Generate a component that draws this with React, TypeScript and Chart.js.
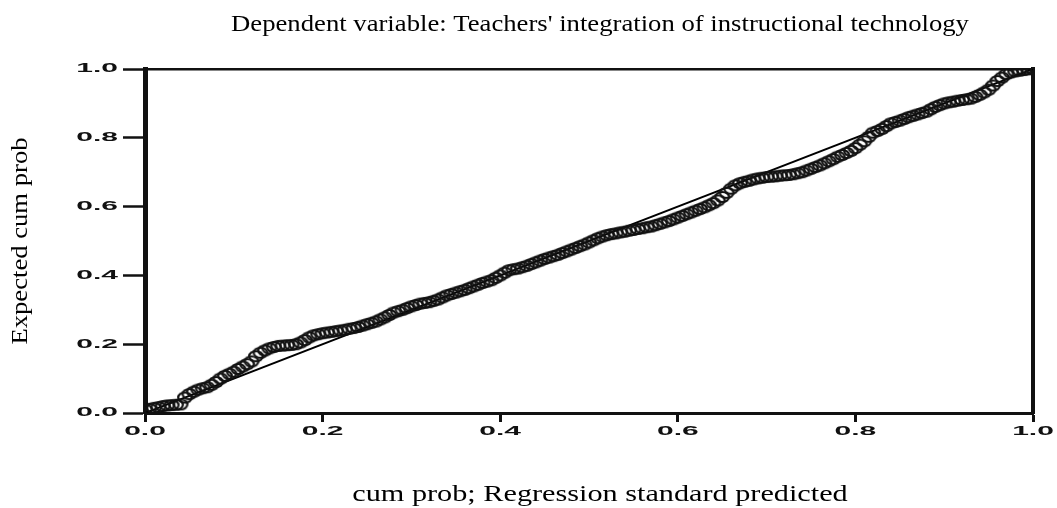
import React, { useEffect, useRef } from "react";
import { Chart, registerables, LinearScale } from "chart.js";

// ---- data ----
const xValues = [
  0.000, 0.005, 0.010, 0.015, 0.020, 0.025, 0.030, 0.035, 0.040, 0.045,
  0.050, 0.055, 0.060, 0.065, 0.070, 0.075, 0.080, 0.085, 0.090, 0.095,
  0.100, 0.105, 0.110, 0.115, 0.120, 0.125, 0.130, 0.135, 0.140, 0.145,
  0.150, 0.155, 0.160, 0.165, 0.170, 0.175, 0.180, 0.185, 0.190, 0.195,
  0.200, 0.205, 0.210, 0.215, 0.220, 0.225, 0.230, 0.235, 0.240, 0.245,
  0.250, 0.255, 0.260, 0.265, 0.270, 0.275, 0.280, 0.285, 0.290, 0.295,
  0.300, 0.305, 0.310, 0.315, 0.320, 0.325, 0.330, 0.335, 0.340, 0.345,
  0.350, 0.355, 0.360, 0.365, 0.370, 0.375, 0.380, 0.385, 0.390, 0.395,
  0.400, 0.405, 0.410, 0.415, 0.420, 0.425, 0.430, 0.435, 0.440, 0.445,
  0.450, 0.455, 0.460, 0.465, 0.470, 0.475, 0.480, 0.485, 0.490, 0.495,
  0.500, 0.505, 0.510, 0.515, 0.520, 0.525, 0.530, 0.535, 0.540, 0.545,
  0.550, 0.555, 0.560, 0.565, 0.570, 0.575, 0.580, 0.585, 0.590, 0.595,
  0.600, 0.605, 0.610, 0.615, 0.620, 0.625, 0.630, 0.635, 0.640, 0.645,
  0.650, 0.655, 0.660, 0.665, 0.670, 0.675, 0.680, 0.685, 0.690, 0.695,
  0.700, 0.705, 0.710, 0.715, 0.720, 0.725, 0.730, 0.735, 0.740, 0.745,
  0.750, 0.755, 0.760, 0.765, 0.770, 0.775, 0.780, 0.785, 0.790, 0.795,
  0.800, 0.805, 0.810, 0.815, 0.820, 0.825, 0.830, 0.835, 0.840, 0.845,
  0.850, 0.855, 0.860, 0.865, 0.870, 0.875, 0.880, 0.885, 0.890, 0.895,
  0.900, 0.905, 0.910, 0.915, 0.920, 0.925, 0.930, 0.935, 0.940, 0.945,
  0.950, 0.955, 0.960, 0.965, 0.970, 0.975, 0.980, 0.985, 0.990, 0.995,
  1.000,
];
const yValues = [
  0.010, 0.012, 0.015, 0.017, 0.020, 0.022, 0.023, 0.024, 0.025, 0.045,
  0.055, 0.062, 0.068, 0.072, 0.075, 0.082, 0.090, 0.100, 0.108, 0.114,
  0.120, 0.128, 0.135, 0.142, 0.150, 0.165, 0.175, 0.182, 0.188, 0.192,
  0.195, 0.196, 0.197, 0.198, 0.200, 0.205, 0.212, 0.220, 0.226, 0.229,
  0.232, 0.234, 0.236, 0.238, 0.240, 0.242, 0.245, 0.247, 0.250, 0.254,
  0.258, 0.262, 0.266, 0.272, 0.278, 0.285, 0.292, 0.296, 0.300, 0.305,
  0.310, 0.314, 0.318, 0.320, 0.322, 0.326, 0.330, 0.336, 0.342, 0.346,
  0.350, 0.354, 0.358, 0.363, 0.368, 0.373, 0.378, 0.382, 0.386, 0.393,
  0.400, 0.408, 0.415, 0.418, 0.420, 0.424, 0.428, 0.433, 0.438, 0.443,
  0.448, 0.452, 0.456, 0.460, 0.465, 0.470, 0.475, 0.480, 0.485, 0.490,
  0.496, 0.502, 0.508, 0.513, 0.517, 0.520, 0.522, 0.525, 0.527, 0.530,
  0.532, 0.535, 0.537, 0.540, 0.542, 0.546, 0.550, 0.554, 0.558, 0.563,
  0.568, 0.573, 0.578, 0.583, 0.588, 0.593, 0.598, 0.604, 0.610, 0.618,
  0.628, 0.640, 0.652, 0.662, 0.668, 0.672, 0.675, 0.679, 0.682, 0.684,
  0.686, 0.687, 0.688, 0.690, 0.691, 0.692, 0.694, 0.697, 0.700, 0.705,
  0.710, 0.715, 0.720, 0.726, 0.732, 0.738, 0.745, 0.750, 0.756, 0.762,
  0.770, 0.780, 0.790, 0.803, 0.815, 0.820, 0.826, 0.834, 0.842, 0.846,
  0.850, 0.855, 0.860, 0.864, 0.868, 0.872, 0.876, 0.883, 0.890, 0.895,
  0.900, 0.903, 0.905, 0.908, 0.910, 0.912, 0.914, 0.919, 0.925, 0.932,
  0.940, 0.952, 0.965, 0.975, 0.985, 0.990, 0.993, 0.995, 0.997, 0.999,
  1.000,
];
const refLineX = [0, 1];
const refLineY = [0, 1];
const axisMin = 0;
const axisMax = 1;
const tickStep = 0.2;

const MAIN_TITLE = "Dependent variable: Teachers' integration of instructional technology";
const X_TITLE = "cum prob; Regression standard predicted";
const Y_TITLE = "Expected cum prob";

// ---- styling helpers ----
const LABEL_STRETCH = 2.5;
const TITLE_FX: Record<string, { dx: number; sx: number; sy: number }> = {
  x: { dx: 11, sx: 1.26, sy: 1 },
  x2: { dx: 11, sx: 1.16, sy: 1 },
  y: { dx: 0, sx: 1, sy: 1.11 },
};

class PPScale extends LinearScale {
  static id = "pplinear";
  static defaults = (LinearScale as any).defaults;

  drawLabels(chartArea: any) {
    const self: any = this;
    if (!self.options.ticks.display) return;
    const ctx = self.ctx as CanvasRenderingContext2D;
    const items = self.getLabelItems(chartArea);
    for (const item of items) {
      const o = item.options;
      ctx.save();
      ctx.translate(o.translation[0], o.translation[1]);
      if (o.rotation) ctx.rotate(o.rotation);
      ctx.scale(LABEL_STRETCH, 1);
      ctx.font = item.font.string;
      ctx.fillStyle = o.color;
      ctx.textAlign = o.textAlign;
      ctx.textBaseline = o.textBaseline;
      const label = Array.isArray(item.label) ? item.label.join(" ") : String(item.label);
      ctx.fillText(label, 0, item.textOffset);
      ctx.restore();
    }
  }

  drawTitle() {
    const self: any = this;
    const fx = TITLE_FX[self.id];
    if (!fx) {
      super.drawTitle();
      return;
    }
    const ctx = self.ctx as CanvasRenderingContext2D;
    const cx = (self.left + self.right) / 2;
    const cy = (self.top + self.bottom) / 2;
    ctx.save();
    ctx.translate(cx + fx.dx, cy);
    ctx.scale(fx.sx, fx.sy);
    ctx.translate(-cx, -cy);
    super.drawTitle();
    ctx.restore();
  }
}

Chart.register(...registerables, PPScale);

function makeEllipse(): HTMLCanvasElement {
  const c = document.createElement("canvas");
  c.width = 18;
  c.height = 14;
  const g = c.getContext("2d")!;
  g.strokeStyle = "#121212";
  g.lineWidth = 2.2;
  g.beginPath();
  g.ellipse(9, 7, 6.8, 5.0, 0, 0, Math.PI * 2);
  g.stroke();
  return c;
}

const tickFont = { family: '"Liberation Sans", Arial, sans-serif', size: 12, weight: "bold" as const };
const serif = '"Liberation Serif", "Times New Roman", serif';
const fmt = (v: any) => Number(v).toFixed(1);

export default function App() {
  const ref = useRef<HTMLCanvasElement>(null);

  useEffect(() => {
    document.body.style.margin = "0";
    const canvas = ref.current!;
    const ellipse = makeEllipse();
    const chart = new Chart(canvas, {
      type: "scatter",
      data: {
        datasets: [
          {
            label: "Reference",
            data: refLineX.map((x, i) => ({ x, y: refLineY[i] })),
            showLine: true,
            borderColor: "#000",
            borderWidth: 2,
            pointRadius: 0,
            fill: false,
            order: 2,
          } as any,
          {
            label: "Observed",
            data: xValues.map((x, i) => ({ x, y: yValues[i] })),
            pointStyle: ellipse as any,
            pointRadius: 7,
            borderColor: "#121212",
            backgroundColor: "transparent",
            order: 1,
          } as any,
        ],
      },
      options: {
        animation: false,
        responsive: false,
        layout: { padding: 0 },
        plugins: {
          legend: { display: false },
          tooltip: { enabled: false },
          title: { display: false },
        },
        scales: {
          x: {
            type: "pplinear" as any,
            position: "bottom",
            min: axisMin,
            max: axisMax,
            ticks: { stepSize: tickStep, font: tickFont, color: "#111", padding: 2, callback: fmt },
            grid: {
              display: true,
              drawOnChartArea: false,
              drawTicks: true,
              tickLength: 9,
              tickWidth: 3,
              tickColor: "#111",
              color: "#111",
            },
            border: { display: true, width: 3, color: "#111" },
            title: {
              display: true,
              text: X_TITLE,
              font: { family: serif, size: 24 },
              color: "#000",
              padding: { top: 0, bottom: -1 },
            },
            afterFit: (s: any) => {
              s.height = 95;
            },
          } as any,
          y: {
            type: "pplinear" as any,
            position: "left",
            min: axisMin,
            max: axisMax,
            ticks: { stepSize: tickStep, font: tickFont, color: "#111", padding: 5, callback: fmt },
            grid: {
              display: true,
              drawOnChartArea: false,
              drawTicks: true,
              tickLength: 22,
              tickWidth: 2.5,
              tickColor: "#111",
              color: "#111",
            },
            border: { display: true, width: 5, color: "#111" },
            title: {
              display: true,
              text: Y_TITLE,
              font: { family: serif, size: 24 },
              color: "#000",
              padding: { top: 6.5, bottom: 0 },
            },
            afterFit: (s: any) => {
              s.width = 145;
            },
          } as any,
          x2: {
            type: "pplinear" as any,
            position: "top",
            min: axisMin,
            max: axisMax,
            ticks: { display: false },
            grid: { display: false },
            border: { display: true, width: 2.5, color: "#111" },
            title: {
              display: true,
              text: MAIN_TITLE,
              font: { family: serif, size: 23 },
              color: "#000",
              padding: { top: 11.4, bottom: 0 },
            },
            afterFit: (s: any) => {
              s.height = 69;
            },
          } as any,
          y2: {
            type: "pplinear" as any,
            position: "right",
            min: axisMin,
            max: axisMax,
            ticks: { display: false },
            grid: { display: false },
            border: { display: true, width: 4, color: "#111" },
            afterFit: (s: any) => {
              s.width = 24;
            },
          } as any,
        },
      },
    });
    return () => chart.destroy();
  }, []);

  return (
    <div style={{ width: 1057, height: 508 }}>
      <canvas ref={ref} width={1057} height={508} style={{ display: "block" }} />
    </div>
  );
}
